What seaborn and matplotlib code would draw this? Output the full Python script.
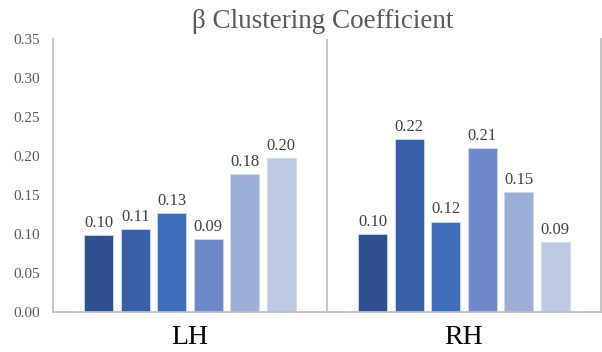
import matplotlib
matplotlib.use("Agg")
import matplotlib.pyplot as plt
import seaborn as sns
import pandas as pd

# ---- data ----
hemispheres = ["LH", "RH"]
series = ["S1", "S2", "S3", "S4", "S5", "S6"]
lh_values = [0.099, 0.106, 0.127, 0.094, 0.177, 0.197]
rh_values = [0.100, 0.222, 0.116, 0.210, 0.154, 0.090]
y_ticks = [0.00, 0.05, 0.10, 0.15, 0.20, 0.25, 0.30, 0.35]
colors = ["#2E5090", "#3860A8", "#3E6DBC", "#6D89C9", "#9DAED8", "#BEC9E4"]
title = "β Clustering Coefficient"

df = pd.DataFrame({
    "hemisphere": ["LH"] * len(series) + ["RH"] * len(series),
    "series": series * 2,
    "value": lh_values + rh_values,
})

sns.set_theme(style="white")
plt.rcParams["font.family"] = ["Liberation Serif", "DejaVu Serif"]

fig = plt.figure(figsize=(6.02, 3.52), dpi=100)
ax = fig.add_axes([53 / 602, 40 / 352, 548 / 602, 273 / 352])

sns.barplot(data=df, x="hemisphere", y="value", hue="series",
            order=hemispheres, hue_order=series, palette=colors,
            saturation=1, width=0.8, gap=0.2, legend=False,
            errorbar=None, ax=ax, edgecolor="#D0D8EC", linewidth=0.6)

for cont in ax.containers:
    ax.bar_label(cont, fmt="%.2f", padding=3, fontsize=12, color="#404040")

ax.set_xlim(-0.5, 1.5)
ax.set_ylim(0, 0.35)
ax.set_yticks(y_ticks)
ax.set_yticklabels([f"{t:.2f}" for t in y_ticks])
ax.set_xlabel("")
ax.set_ylabel("")

line_c = "#BFBFBF"
for s in ["left", "right", "bottom"]:
    ax.spines[s].set_visible(True)
    ax.spines[s].set_color(line_c)
    ax.spines[s].set_linewidth(1.3)
ax.spines["top"].set_visible(False)
ax.axvline(0.5, color=line_c, lw=1.3)

ax.tick_params(axis="y", length=0, pad=9, labelsize=11, labelcolor="#595959")
ax.tick_params(axis="x", length=0, pad=9, labelsize=20, labelcolor="#000000")

fig.text(323 / 602, 1 - 22 / 352, title, ha="center", va="center",
         fontsize=19.5, color="#595959")

fig.savefig("out.png", dpi=100)
